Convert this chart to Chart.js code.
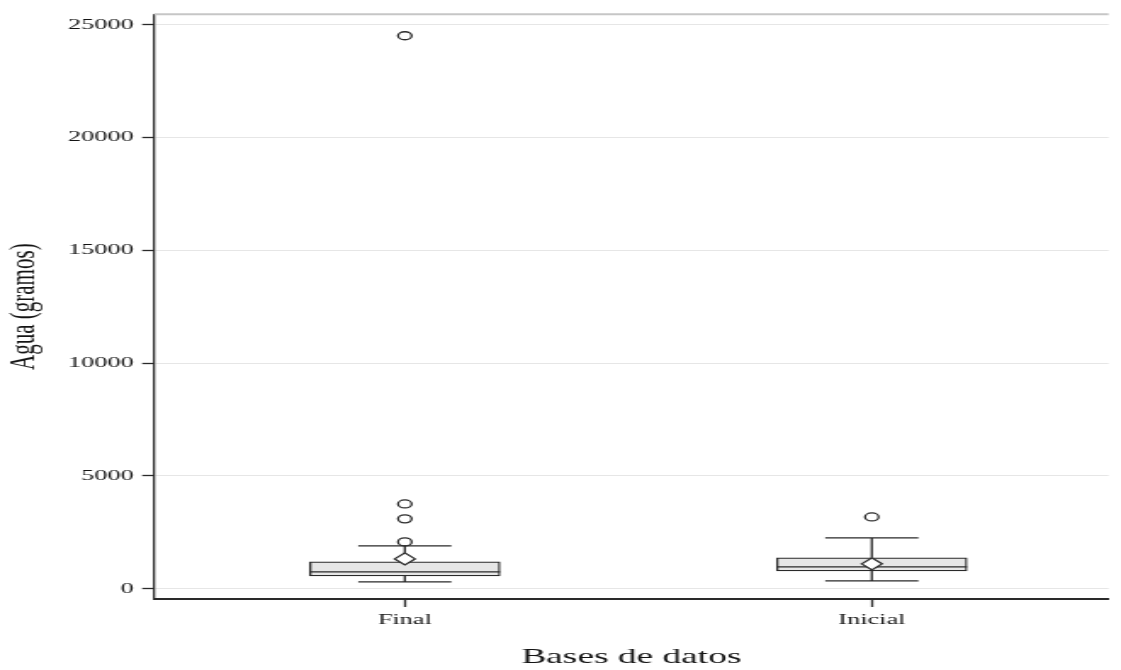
<!DOCTYPE html>
<html><head><meta charset="utf-8">
<script src="https://cdn.jsdelivr.net/npm/chart.js@4/dist/chart.umd.min.js"></script>
<style>
html,body{margin:0;padding:0;background:#fff;overflow:hidden}
#wrap{width:660px;height:670px;transform:scaleX(1.69848);transform-origin:0 0}
</style></head>
<body><div id="wrap"><canvas id="c" width="660" height="670"></canvas></div>
<script>
const categories = ['Final', 'Inicial'];
const whiskerLow = [310, 354];
const q1 = [575, 796];
const median = [752, 973];
const q3 = [1195, 1372];
const whiskerHigh = [1900, 2257];
const means = [1327, 1106];
const outliersFinal = [2080, 3100, 3760, 24500];
const outliersInicial = [3186];
const yTicks = [0, 5000, 10000, 15000, 20000, 25000];

const FONT = 'Liberation Serif';
const INK = '#2a2a2a';
const TEXT = '#141414';

const boxData = categories.map((c, i) => ({ x: i + 1, y: [q1[i], q3[i]] }));
const meanData = categories.map((c, i) => ({ x: i + 1, y: means[i] }));
const outlierData = [
  ...outliersFinal.map(v => ({ x: 1, y: v })),
  ...outliersInicial.map(v => ({ x: 2, y: v }))
];

const whiskerPlugin = {
  id: 'whiskers',
  afterDatasetDraw(chart, args) {
    if (args.index !== 0) return;
    const { ctx, scales: { y } } = chart;
    const bars = chart.getDatasetMeta(0).data;
    ctx.save();
    ctx.strokeStyle = INK;
    ctx.lineWidth = 1.3;
    categories.forEach((c, i) => {
      const bar = bars[i];
      const cx = bar.x;
      const bh = bar.width / 2;
      const cap = bar.width * 0.245;
      const yq1 = y.getPixelForValue(q1[i]);
      const yq3 = y.getPixelForValue(q3[i]);
      const yLo = y.getPixelForValue(whiskerLow[i]);
      const yHi = y.getPixelForValue(whiskerHigh[i]);
      const yMed = y.getPixelForValue(median[i]);
      ctx.beginPath();
      ctx.moveTo(cx, yq3); ctx.lineTo(cx, yHi);
      ctx.moveTo(cx - cap, yHi); ctx.lineTo(cx + cap, yHi);
      ctx.moveTo(cx, yq1); ctx.lineTo(cx, yLo);
      ctx.moveTo(cx - cap, yLo); ctx.lineTo(cx + cap, yLo);
      ctx.moveTo(cx - bh, yMed); ctx.lineTo(cx + bh, yMed);
      ctx.stroke();
    });
    ctx.restore();
  }
};

const topLinePlugin = {
  id: 'topLine',
  beforeDatasetsDraw(chart) {
    const { ctx, chartArea } = chart;
    ctx.save();
    ctx.strokeStyle = '#c6c6c6';
    ctx.lineWidth = 2;
    ctx.beginPath();
    ctx.moveTo(chartArea.left, chartArea.top);
    ctx.lineTo(chartArea.right, chartArea.top);
    ctx.stroke();
    ctx.restore();
  }
};

new Chart(document.getElementById('c'), {
  type: 'bar',
  data: {
    datasets: [
      {
        type: 'bar',
        data: boxData,
        backgroundColor: '#e6e6e6',
        borderColor: INK,
        borderWidth: 1.3,
        borderSkipped: false,
        barThickness: 112,
        order: 3
      },
      {
        type: 'scatter',
        data: meanData,
        pointStyle: 'rectRot',
        pointRadius: 6,
        pointBackgroundColor: '#ffffff',
        pointBorderColor: INK,
        pointBorderWidth: 1.3,
        order: 1
      },
      {
        type: 'scatter',
        data: outlierData,
        pointStyle: 'circle',
        pointRadius: 4,
        pointBackgroundColor: 'rgba(255,255,255,0)',
        pointBorderColor: INK,
        pointBorderWidth: 1.3,
        order: 2
      }
    ]
  },
  options: {
    responsive: false,
    animation: false,
    devicePixelRatio: 1,
    layout: { padding: { top: 14, right: 0, bottom: 0, left: 0 } },
    plugins: { legend: { display: false }, tooltip: { enabled: false } },
    scales: {
      x: {
        type: 'linear',
        offset: false,
        min: 0.463,
        max: 2.507,
        afterBuildTicks: s => { s.ticks = categories.map((c, i) => ({ value: i + 1 })); },
        afterFit: s => { s.height = 71; },
        ticks: {
          callback: (v, i) => categories[i],
          font: { family: FONT, size: 15.5 },
          color: TEXT,
          padding: 4,
          autoSkip: false,
          maxRotation: 0
        },
        grid: { offset: false, drawOnChartArea: false, tickLength: 8, tickColor: INK, tickWidth: 1.3 },
        border: { color: INK, width: 2 },
        title: {
          display: true,
          text: 'Bases de datos',
          font: { family: FONT, size: 22 },
          color: TEXT,
          padding: { top: 0, bottom: 0 }
        }
      },
      y: {
        min: -450,
        max: 25450,
        afterBuildTicks: s => { s.ticks = yTicks.map(v => ({ value: v })); },
        afterFit: s => { s.width = 90.7; },
        ticks: {
          callback: v => String(v),
          font: { family: FONT, size: 15.5 },
          color: TEXT,
          padding: 5
        },
        grid: { color: '#e6e6e6', lineWidth: 1, tickColor: INK, tickLength: 7, tickWidth: 1.3 },
        border: { color: INK, width: 1.3 },
        title: {
          display: true,
          text: 'Agua (gramos)',
          font: { family: FONT, size: 21 },
          color: TEXT,
          padding: { top: 2, bottom: 0 }
        }
      }
    }
  },
  plugins: [whiskerPlugin, topLinePlugin]
});
</script>
</body></html>
